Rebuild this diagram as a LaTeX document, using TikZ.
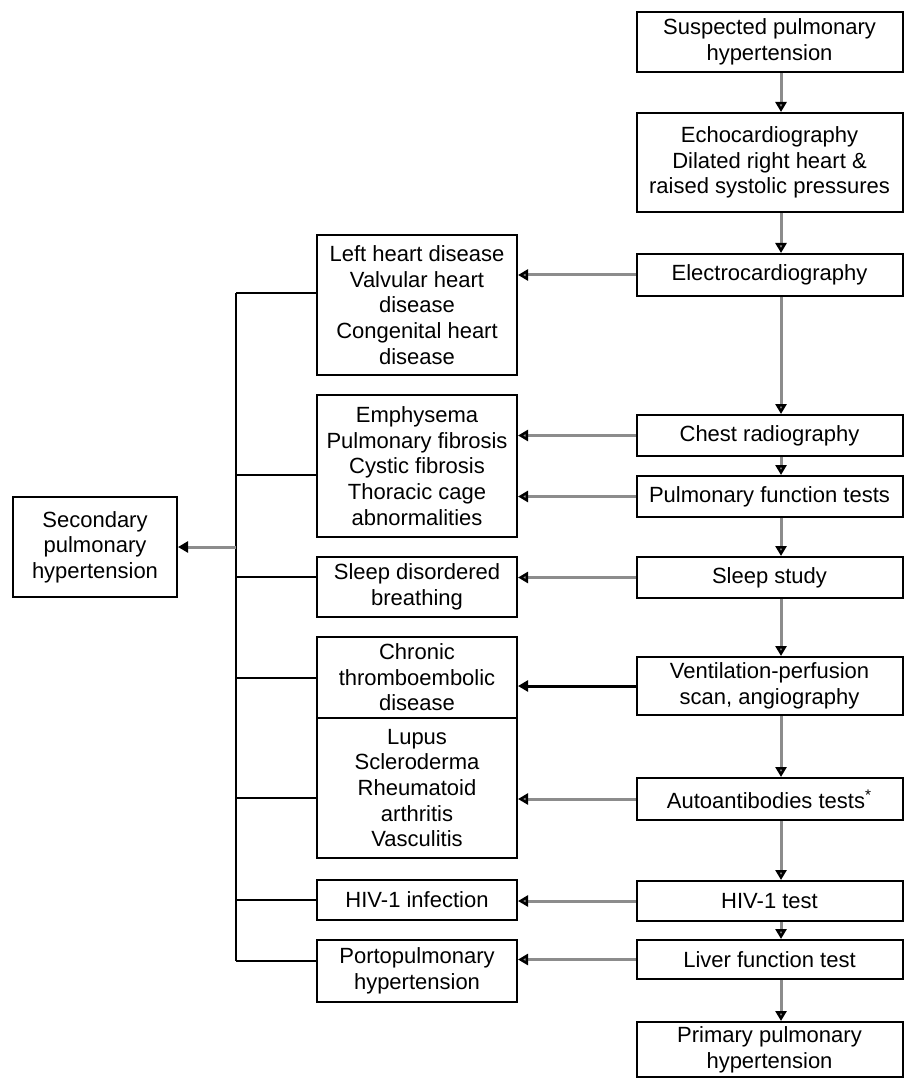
\documentclass[tikz,border=0pt]{standalone}
\usepackage{fontspec}
\setmainfont{Liberation Sans}
\usetikzlibrary{arrows.meta}

\begin{document}
\begin{tikzpicture}[x=0.5pt,y=-0.5pt,>={Triangle[length=5pt,width=5.5pt,color=black]},
  box/.style={draw,line width=1pt,align=center,inner sep=1pt,font=\fontsize{11}{12.8}\selectfont},
  test/.style={box,minimum width=133pt},
  cause/.style={box,minimum width=100pt},
  flow/.style={->,color=black!45,line width=1.5pt},
  link/.style={-,line width=1pt}]
            \useasboundingbox (0,0) rectangle (906,1079);
            % right column: the work-up
            \node[test, minimum height=30pt] (sus) at (769.5,42) {Suspected pulmonary\\hypertension};
            \node[test, minimum height=49.5pt] (echo) at (769.5,162.5) {Echocardiography\\Dilated right heart \&\\raised systolic pressures};
            \node[test, minimum height=21pt] (ecg) at (769.5,275) {Electrocardiography};
            \node[test, minimum height=20.5pt] (chest) at (769.5,435.5) {Chest radiography};
            \node[test, minimum height=20.5pt] (pft) at (769.5,496.5) {Pulmonary function tests};
            \node[test, minimum height=20.5pt] (sleep) at (769.5,577.5) {Sleep study};
            \node[test, minimum height=29pt] (vq) at (769.5,686) {Ventilation-perfusion\\scan, angiography};
            \node[test, minimum height=21pt] (auto) at (769.5,799) {Autoantibodies tests\textsuperscript{*}};
            \node[test, minimum height=20pt] (hiv) at (769.5,901) {HIV-1 test};
            \node[test, minimum height=19.5pt] (liver) at (769.5,959.5) {Liver function test};
            \node[test, minimum height=27.5pt] (prim) at (769.5,1049.5) {Primary pulmonary\\hypertension};

            % middle column: causes
            \node[cause, minimum height=70pt] (heart) at (417,305) {Left heart disease\\Valvular heart\\disease\\Congenital heart\\disease};
            \node[cause, minimum height=71pt] (lung) at (417,466) {Emphysema\\Pulmonary fibrosis\\Cystic fibrosis\\Thoracic cage\\abnormalities};
            \node[cause, minimum height=30pt] (sdb) at (417,587) {Sleep disordered\\breathing};
            \node[cause, minimum height=40.5pt] (cteph) at (417,677.5) {Chronic\\thromboembolic\\disease};
            \node[cause, minimum height=70pt] (ctd) at (417,788) {Lupus\\Scleroderma\\Rheumatoid\\arthritis\\Vasculitis};
            \node[cause, minimum height=20pt] (hivi) at (417,900) {HIV-1 infection};
            \node[cause, minimum height=31pt] (porto) at (417,971) {Portopulmonary\\hypertension};

            \node[box, minimum width=82pt, minimum height=50pt] (sec) at (95,547) {Secondary\\pulmonary\\hypertension};

            \coordinate (sp) at (781,0);
            \coordinate (bus) at (236,545);

            \path[flow]
                (sus.south -| sp) edge (echo.north -| sp)
                (echo.south -| sp) edge (ecg.north -| sp)
                (ecg.south -| sp) edge (chest.north -| sp)
                (chest.south -| sp) edge (pft.north -| sp)
                (pft.south -| sp) edge (sleep.north -| sp)
                (sleep.south -| sp) edge (vq.north -| sp)
                (vq.south -| sp) edge (auto.north -| sp)
                (auto.south -| sp) edge (hiv.north -| sp)
                (hiv.south -| sp) edge (liver.north -| sp)
                (liver.south -| sp) edge (prim.north -| sp)
                ;

            \path[flow]
                (ecg.west) edge (heart.east |- ecg.west)
                (chest.west) edge (lung.east |- chest.west)
                (pft.west) edge (lung.east |- pft.west)
                (sleep.west) edge (sdb.east |- sleep.west)
                (vq.west) edge[black] (cteph.east |- vq.west)
                (auto.west) edge (ctd.east |- auto.west)
                (hiv.west) edge (hivi.east |- hiv.west)
                (liver.west) edge (porto.east |- liver.west)
                ;

            \draw[link] ([yshift=6pt]heart.west -| bus) -- ([yshift=5pt]porto.west -| bus);
            \path[link]
                ([yshift=6pt]heart.west) edge ([yshift=6pt]heart.west -| bus)
                ([yshift=-4.5pt]lung.west) edge ([yshift=-4.5pt]lung.west -| bus)
                ([yshift=5pt]sdb.west) edge ([yshift=5pt]sdb.west -| bus)
                (cteph.west) edge (cteph.west -| bus)
                ([yshift=-5pt]ctd.west) edge ([yshift=-5pt]ctd.west -| bus)
                (hivi.west) edge (hivi.west -| bus)
                ([yshift=5pt]porto.west) edge ([yshift=5pt]porto.west -| bus)
                ;
            \draw[flow] (sec.east -| bus) -- (sec.east);
        \end{tikzpicture}
\end{document}
